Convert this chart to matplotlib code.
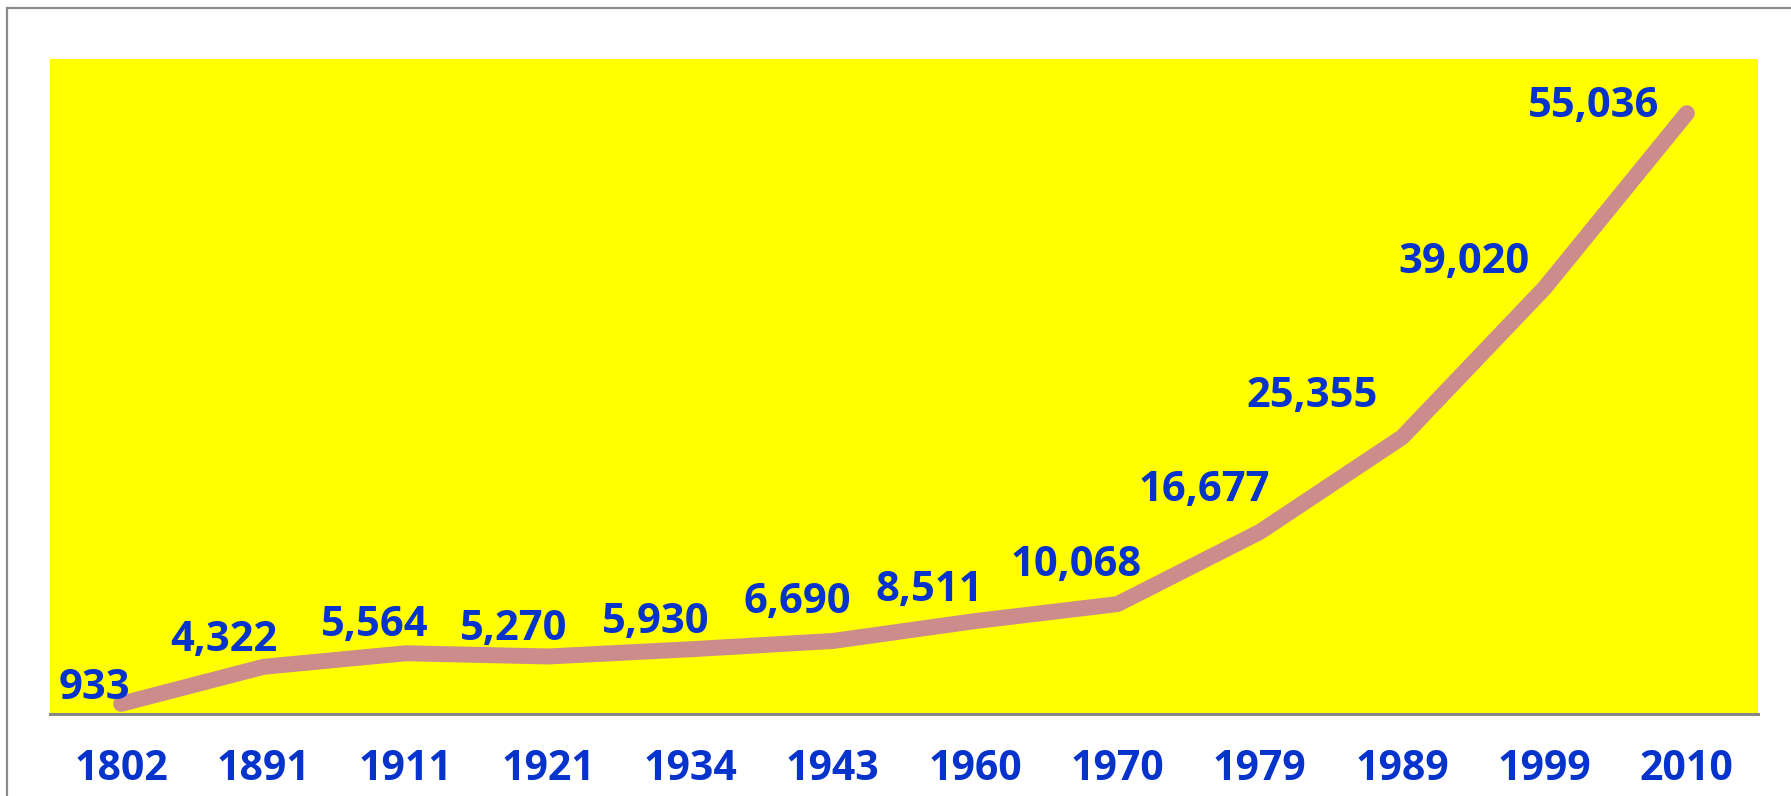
import matplotlib
matplotlib.use("Agg")
from matplotlib import pyplot as plt
from matplotlib.lines import Line2D

years = ["1802", "1891", "1911", "1921", "1934", "1943",
         "1960", "1970", "1979", "1989", "1999", "2010"]
population = [933, 4322, 5564, 5270, 5930, 6690,
              8511, 10068, 16677, 25355, 39020, 55036]

# label nudges (pixels, right / up)
label_dx = [-27, -40, -31, -35, -35, -36, -46, -41, -56, -90, -81, -93]
label_dy = [5, 16, 17, 16, 16, 28, 20, 28, 31, 30, 15, -4]

blue = "#0533CC"
plt.rcParams["font.family"] = ["Open Sans", "DejaVu Sans"]

fig = plt.figure(figsize=(17.91, 7.96), dpi=100)
ax = fig.add_axes([50 / 1791, 1 - 714 / 796, 1708 / 1791, 655 / 796])
ax.set_facecolor("#FFFF00")

x = list(range(len(years)))
ax.plot(x, population, color="#CC8C8C", lw=11.5,
        solid_capstyle="round", solid_joinstyle="round")

for i, v in enumerate(population):
    ax.annotate(f"{v:,}", (x[i], v),
                xytext=(label_dx[i] * 0.72, label_dy[i] * 0.72),
                textcoords="offset points", ha="center", va="baseline",
                fontsize=30, fontweight="bold", color=blue)

ax.set_xlim(-0.5, len(years) - 0.5)
ax.set_ylim(0, 60000)
ax.set_xticks(x)
ax.set_xticklabels(years, fontsize=29.5, fontweight="bold", color=blue)
ax.tick_params(axis="x", length=0, pad=25)
ax.set_yticks([])
for s in ["left", "right", "top"]:
    ax.spines[s].set_visible(False)
ax.spines["bottom"].set_color("#888888")
ax.spines["bottom"].set_linewidth(2.2)

# outer frame (only left and top edges show in the picture)
fig.add_artist(Line2D([7 / 1791, 7 / 1791], [0, 1 - 8 / 796],
                      transform=fig.transFigure, color="#8C8C8C", lw=1.6))
fig.add_artist(Line2D([7 / 1791, 1], [1 - 8 / 796, 1 - 8 / 796],
                      transform=fig.transFigure, color="#8C8C8C", lw=1.6))

fig.savefig("out.png", dpi=100)
